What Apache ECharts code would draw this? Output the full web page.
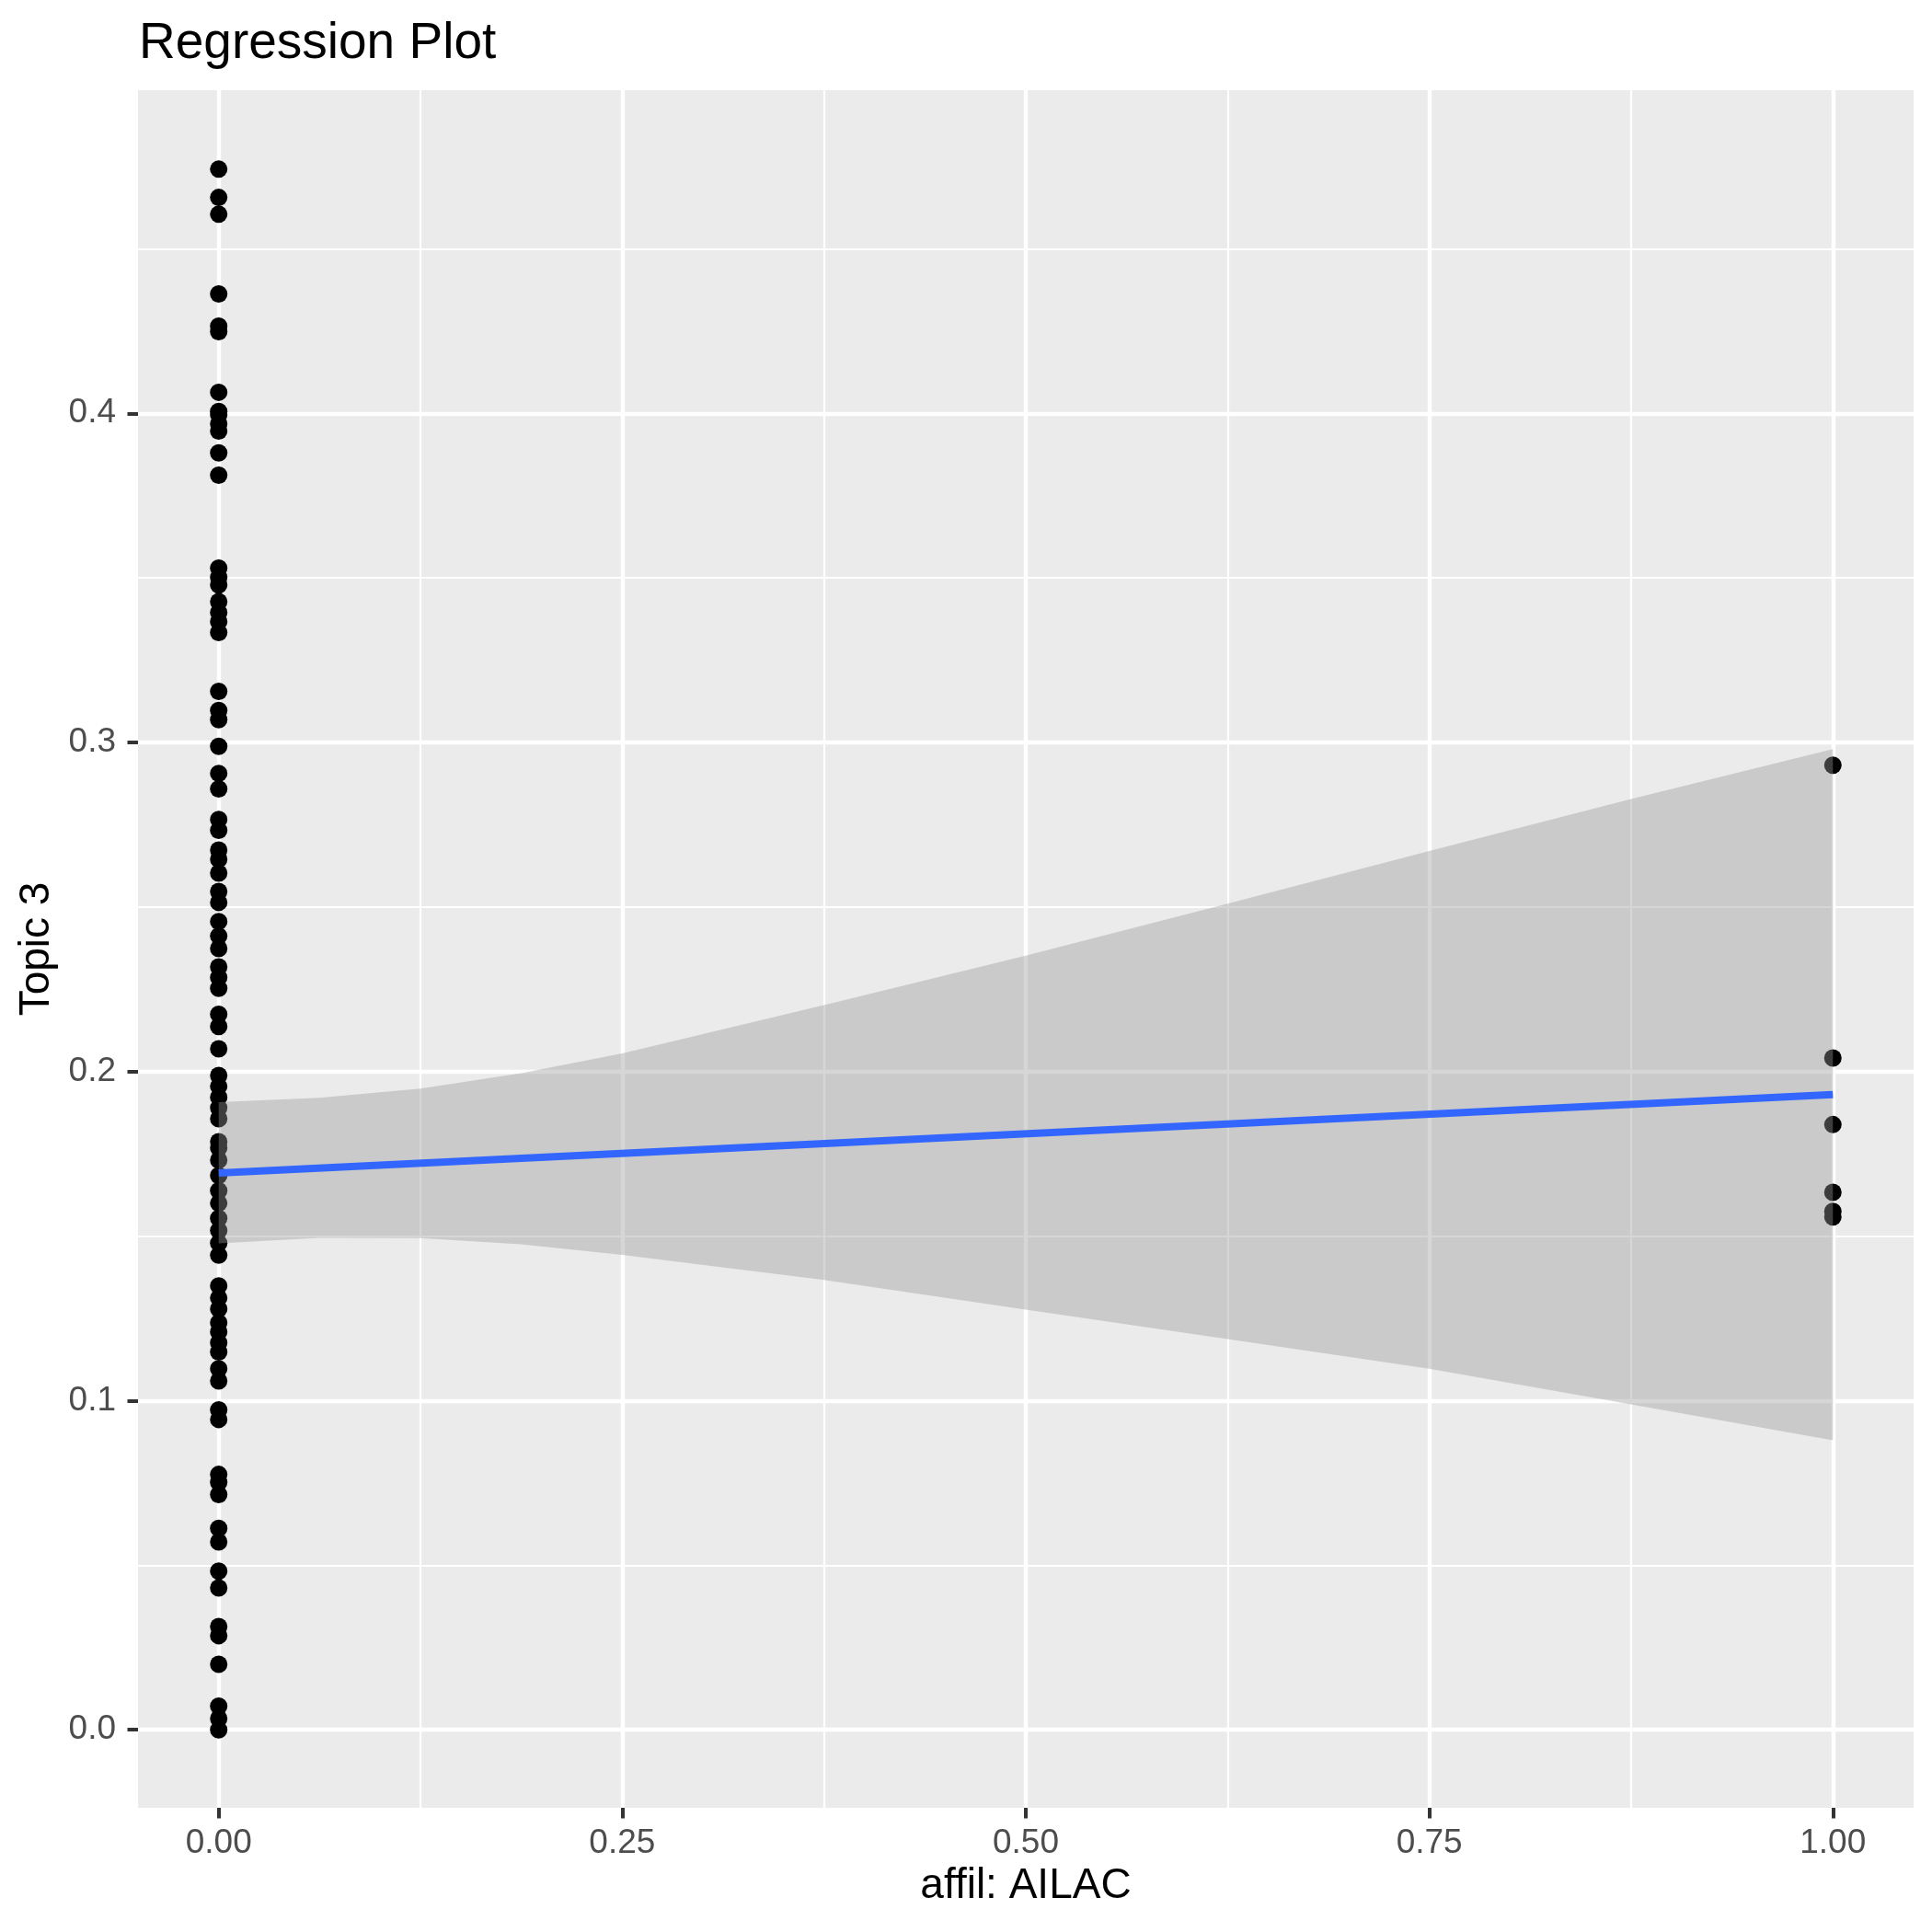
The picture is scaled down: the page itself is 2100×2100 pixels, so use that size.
<!DOCTYPE html>
<html>
<head>
<meta charset="utf-8">
<script src="https://cdn.jsdelivr.net/npm/echarts@6/dist/echarts.min.js"></script>
<style>
html,body{margin:0;padding:0;background:#fff;}
#chart{width:2100px;height:2100px;}
</style>
</head>
<body>
<div id="chart"></div>
<script>
// ---- data ----
const groupZeroY = [
  0.4742, 0.4656, 0.4605, 0.4363, 0.4265, 0.4248, 0.4064, 0.4006, 0.3996, 0.3968, 0.3946, 0.3880, 0.3812,
  0.3530, 0.3502, 0.3479, 0.3428, 0.3395, 0.3367, 0.3334, 0.3155, 0.3097, 0.3069, 0.2988, 0.2906, 0.2859, 0.2766,
  0.2733, 0.2673, 0.2645, 0.2603, 0.2547, 0.2514, 0.2456, 0.2412, 0.2374, 0.2318, 0.2286, 0.2253, 0.2174, 0.2137,
  0.2069, 0.1988, 0.1955, 0.1922, 0.1890, 0.1857, 0.1787,
  0.1768, 0.1731, 0.1684, 0.1638, 0.1600, 0.1554, 0.1517, 0.1479, 0.1442, 0.1349, 0.1312, 0.1279, 0.1237, 0.1209,
  0.1176, 0.1148, 0.1097, 0.1060, 0.0972, 0.0943, 0.0776,
  0.0752, 0.0715, 0.0612, 0.0571, 0.0482, 0.0431, 0.0314, 0.0286, 0.0199, 0.0072, 0.0034, 0.0000
];
const groupOneY = [0.2931, 0.2041, 0.1839, 0.1633, 0.1575, 0.1558];

const fitX = [0, 1];
const fitY = [0.1692, 0.1930];

const ribbonX     = [0,      0.0625, 0.125,  0.1875, 0.25,   0.375,  0.5,    0.625,  0.75,   0.875,  1];
const ribbonUpper = [0.1907, 0.1920, 0.1948, 0.1995, 0.2055, 0.2202, 0.2352, 0.2510, 0.2670, 0.2828, 0.2980];
const ribbonLower = [0.1478, 0.1495, 0.1494, 0.1475, 0.1443, 0.1367, 0.1277, 0.1187, 0.1097, 0.0989, 0.0880];

const xTicks = [0, 0.25, 0.5, 0.75, 1];
const xMinor = [0.125, 0.375, 0.625, 0.875];
const yTicks = [0, 0.1, 0.2, 0.3, 0.4];
const yMinor = [0.05, 0.15, 0.25, 0.35, 0.45];

const xRange = [-0.05, 1.05];
const yRange = [-0.0237, 0.4982];

// ---- build ----
const FONT = 'Liberation Sans, Arial, Helvetica, sans-serif';
const scatterData = groupZeroY.map(v => [0, v]).concat(groupOneY.map(v => [1, v]));

const chart = echarts.init(document.getElementById('chart'), null, {renderer: 'canvas'});

const majorAxisCommon = {
  type: 'value',
  axisLine: {show: false, onZero: false},
  axisTick: {show: true, length: 11.5, lineStyle: {color: '#333333', width: 4}},
  splitLine: {show: true, lineStyle: {color: '#FFFFFF', width: 4.4}},
  axisLabel: {color: '#4D4D4D', fontSize: 37, fontFamily: FONT},
  nameTextStyle: {color: '#000000', fontSize: 46, fontFamily: FONT}
};
const minorAxisCommon = {
  type: 'value',
  axisLine: {show: false, onZero: false},
  axisLabel: {show: false},
  splitLine: {show: true, lineStyle: {color: '#FFFFFF', width: 2.2}}
};

chart.setOption({
  animation: false,
  backgroundColor: '#FFFFFF',
  title: {
    text: 'Regression Plot',
    left: 146,
    top: 15,
    textStyle: {color: '#000000', fontSize: 55, fontWeight: 'normal', fontFamily: FONT}
  },
  grid: {
    left: 150, right: 20, top: 98, bottom: 135,
    show: true, backgroundColor: '#EBEBEB', borderWidth: 0,
    containLabel: false, outerBoundsMode: 'none'
  },
  xAxis: [
    Object.assign({}, majorAxisCommon, {
      min: xRange[0], max: xRange[1], position: 'bottom',
      name: 'affil: AILAC', nameLocation: 'middle', nameGap: 60,
      axisTick: Object.assign({}, majorAxisCommon.axisTick, {customValues: xTicks}),
      axisLabel: Object.assign({}, majorAxisCommon.axisLabel, {
        customValues: xTicks, margin: 20, formatter: v => v.toFixed(2)
      }),
      z: 1
    }),
    Object.assign({}, minorAxisCommon, {
      min: xRange[0], max: xRange[1], position: 'top',
      axisTick: {show: false, customValues: xMinor}, z: 0
    })
  ],
  yAxis: [
    Object.assign({}, majorAxisCommon, {
      min: yRange[0], max: yRange[1], position: 'left',
      name: 'Topic 3', nameLocation: 'middle', nameGap: 85, nameRotate: 90,
      axisTick: Object.assign({}, majorAxisCommon.axisTick, {customValues: yTicks}),
      axisLabel: Object.assign({}, majorAxisCommon.axisLabel, {
        customValues: yTicks, margin: 24, formatter: v => v.toFixed(1)
      }),
      z: 1
    }),
    Object.assign({}, minorAxisCommon, {
      min: yRange[0], max: yRange[1], position: 'right',
      axisTick: {show: false, customValues: yMinor}, z: 0
    })
  ],
  series: [
    {
      type: 'scatter',
      xAxisIndex: 0, yAxisIndex: 0,
      data: scatterData,
      symbol: 'circle',
      symbolSize: 19,
      itemStyle: {color: '#000000', opacity: 1},
      z: 2,
      silent: true
    },
    {
      type: 'custom',
      xAxisIndex: 0, yAxisIndex: 0,
      data: [[0, 0]],
      z: 3,
      silent: true,
      renderItem: function (params, api) {
        const pts = [];
        for (let i = 0; i < ribbonX.length; i++) pts.push(api.coord([ribbonX[i], ribbonUpper[i]]));
        for (let i = ribbonX.length - 1; i >= 0; i--) pts.push(api.coord([ribbonX[i], ribbonLower[i]]));
        return {
          type: 'polygon',
          shape: {points: pts},
          style: {fill: 'rgba(153,153,153,0.4)', stroke: null}
        };
      }
    },
    {
      type: 'line',
      xAxisIndex: 0, yAxisIndex: 0,
      data: fitX.map((x, i) => [x, fitY[i]]),
      showSymbol: false,
      symbol: 'none',
      lineStyle: {color: '#3366FF', width: 8},
      z: 4,
      silent: true
    }
  ]
});
</script>
</body>
</html>
